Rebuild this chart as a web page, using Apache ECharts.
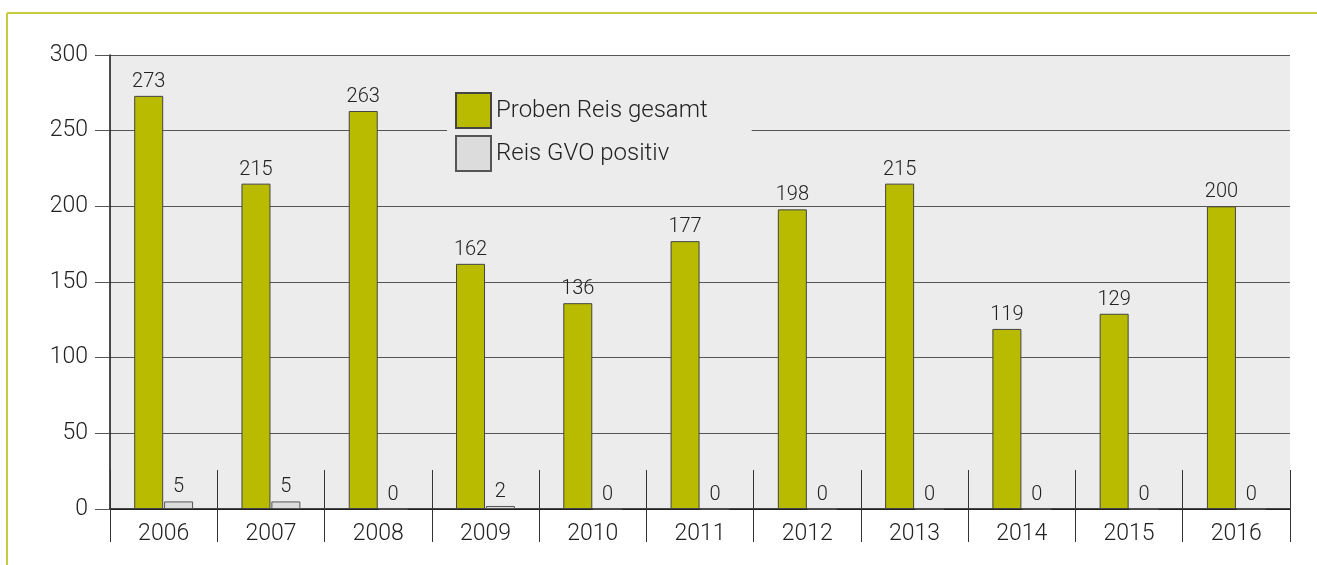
<!DOCTYPE html>
<html>
<head>
<meta charset="utf-8">
<script src="https://cdn.jsdelivr.net/npm/echarts@6/dist/echarts.min.js"></script>
<style>
  html, body { margin: 0; padding: 0; background: #fff; }
  #container { width: 1317px; height: 565px; }
</style>
</head>
<body>
<div id="container"></div>
<script>
// Jahre und Werte
var years = ['2006', '2007', '2008', '2009', '2010', '2011', '2012', '2013', '2014', '2015', '2016'];
var probenGesamt = [273, 215, 263, 162, 136, 177, 198, 215, 119, 129, 200];
var gvoPositiv = [5, 5, 0, 2, 0, 0, 0, 0, 0, 0, 0];
var seriesNames = ['Proben Reis gesamt', 'Reis GVO positiv'];

var font = 'Roboto, "Liberation Sans", sans-serif';
var chart = echarts.init(document.getElementById('container'));

var option = {
  animation: false,
  textStyle: { fontFamily: font },
  grid: {
    left: 110, right: 27, top: 55, bottom: 56,
    show: true, backgroundColor: '#ececec', borderWidth: 0
  },
  legend: {
    orient: 'vertical',
    left: 447, top: 86,
    itemWidth: 35, itemHeight: 35, itemGap: 6,
    padding: [6, 44, 6, 8],
    backgroundColor: '#ececec',
    icon: 'rect',
    textStyle: { fontSize: 24, color: '#222', fontFamily: font, fontWeight: 300 },
    data: seriesNames
  },
  xAxis: [
    {
      type: 'category',
      data: years,
      axisLine: { lineStyle: { color: '#111', width: 1.5 } },
      axisTick: { show: true, length: 33, lineStyle: { color: '#333' } },
      axisLabel: { fontSize: 23, color: '#222', margin: 14, fontWeight: 300 }
    },
    {
      // nur Trennstriche über der Achse
      type: 'category',
      data: years,
      position: 'bottom',
      axisLine: { show: false },
      axisTick: { show: true, inside: true, length: 39, lineStyle: { color: '#333' } },
      axisLabel: { show: false }
    }
  ],
  yAxis: {
    type: 'value',
    min: 0, max: 300, interval: 50,
    axisLine: { show: true, lineStyle: { color: '#111', width: 1.5 } },
    axisTick: { show: true, length: 15, lineStyle: { color: '#555' } },
    axisLabel: { fontSize: 23, color: '#222', margin: 22, fontWeight: 300 },
    splitLine: { lineStyle: { color: '#555', width: 1 } }
  },
  series: [
    {
      name: seriesNames[0],
      type: 'bar',
      data: probenGesamt,
      barWidth: 29,
      barGap: '3%',
      itemStyle: { color: '#b9bb00', borderColor: '#444', borderWidth: 1 },
      label: { show: true, position: 'top', fontSize: 20, color: '#222', distance: 4, fontWeight: 300 }
    },
    {
      name: seriesNames[1],
      type: 'bar',
      data: gvoPositiv,
      barWidth: 29,
      itemStyle: { color: '#dcdcdc', borderColor: '#555', borderWidth: 1 },
      label: { show: true, position: 'top', fontSize: 20, color: '#222', distance: 4, fontWeight: 300 }
    }
  ],
  graphic: [
    { type: 'line', shape: { x1: 7, y1: 13, x2: 1317, y2: 13 }, style: { stroke: '#c8cc3c', lineWidth: 2 } },
    { type: 'line', shape: { x1: 7, y1: 13, x2: 7, y2: 565 }, style: { stroke: '#c8cc3c', lineWidth: 2 } }
  ]
};

chart.setOption(option);
</script>
</body>
</html>
